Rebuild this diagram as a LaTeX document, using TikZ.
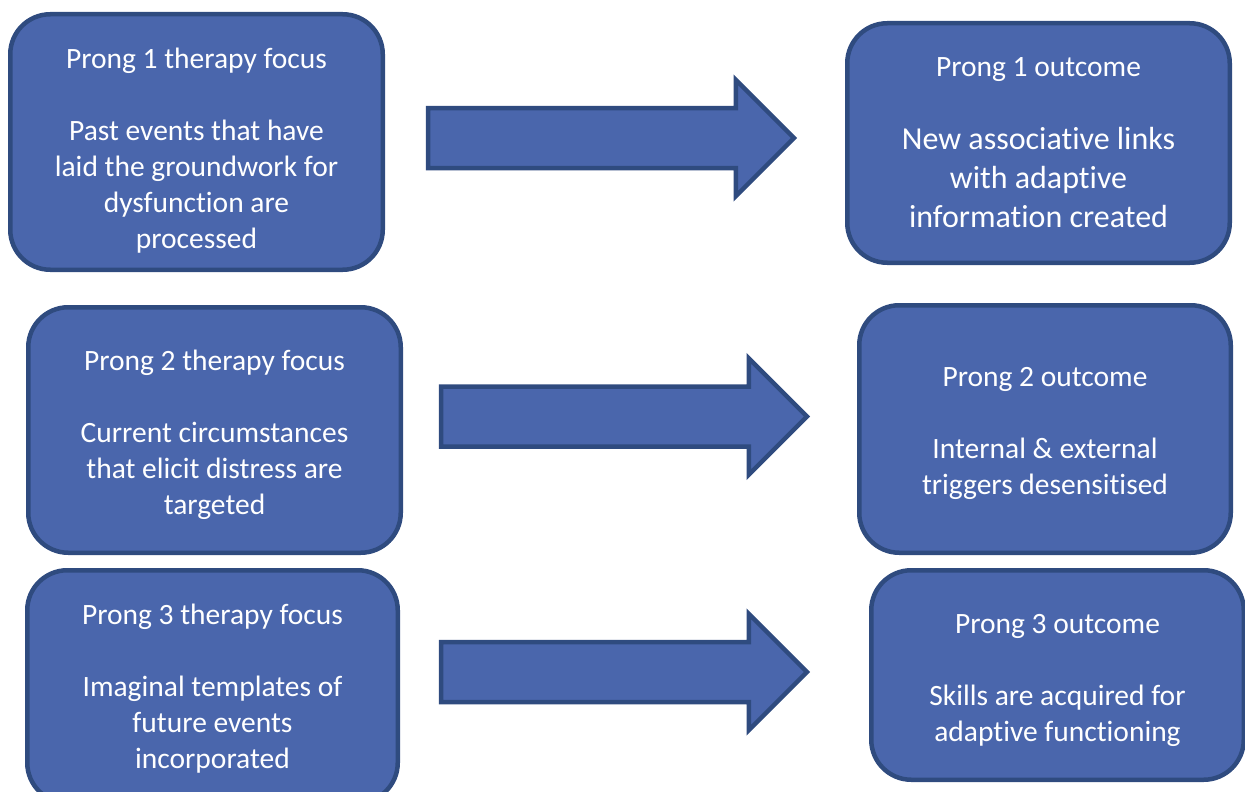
\documentclass[tikz,border=0pt]{standalone}
\usepackage{fontspec}
\setmainfont[Ligatures={NoCommon,NoRare,NoContextual}]{Carlito}
\usetikzlibrary{shapes.arrows}
\definecolor{prongfill}{HTML}{4A66AC}
\definecolor{prongline}{HTML}{2F4B7F}
\tikzstyle{prong}=[rectangle, rounded corners=40pt, draw=prongline, line width=4.5pt, fill=prongfill, text=white, align=center, inner sep=0pt, font=\fontsize{29.5}{36}\selectfont]
% strut to push the text block down a little
\newcommand{\pushdown}[1]{\rule{0pt}{#1}}

\begin{document}
\begin{tikzpicture}[
        x=1pt, y=-1pt,
        flow/.style={single arrow, draw=prongline, line width=4.5pt, fill=prongfill, single arrow head extend=28.25pt, single arrow tip angle=90, inner xsep=0pt, inner ysep=27.75pt, minimum width=112pt, minimum height=366pt},
      ]
      \useasboundingbox (0,0) rectangle (1245,792);
      \node (FocusOne) [prong, minimum width=372.5pt, minimum height=255.5pt] at (196.5,142)
            {
              \pushdown{38pt}Prong 1 therapy focus\\[36pt]
              Past events that have\\laid the groundwork for\\dysfunction are\\processed
            };
      \node (OutcomeOne) [prong, minimum width=382.5pt, minimum height=239.5pt, font=\fontsize{32}{39}\selectfont] at (1038.5,143)
            {
              {\fontsize{29.5}{36}\selectfont Prong 1 outcome}\\[34pt]
              New associative links\\with adaptive\\information created
            };
      \node (FocusTwo) [prong, minimum width=372.5pt, minimum height=245.5pt] at (214.5,430)
            {
              \pushdown{30pt}Prong 2 therapy focus\\[36pt]
              Current circumstances\\that elicit distress are\\targeted
            };
      \node (OutcomeTwo) [prong, minimum width=371.5pt, minimum height=247.5pt] at (1045,429)
            {
              \pushdown{28pt}Prong 2 outcome\\[36pt]
              Internal \& external\\triggers desensitised
            };
      \node (FocusThree) [prong, minimum width=370.5pt, minimum height=232.5pt] at (212.5,686.5)
            {
              \pushdown{24pt}Prong 3 therapy focus\\[36pt]
              Imaginal templates of\\future events\\incorporated
            };
      \node (OutcomeThree) [prong, minimum width=372.5pt, minimum height=209.5pt] at (1057.5,675)
            {
              \pushdown{30pt}Prong 3 outcome\\[36pt]
              Skills are acquired for\\adaptive functioning
            };
      \node (ArrowOne) [flow] at (596,138) {};
      \node (ArrowTwo) [flow] at (609,416.5) {};
      \node (ArrowThree) [flow] at (609,672) {};
    \end{tikzpicture}
\end{document}
